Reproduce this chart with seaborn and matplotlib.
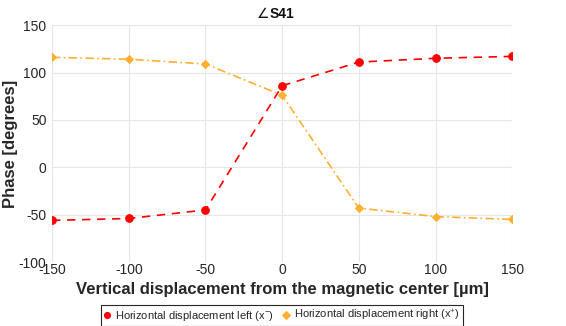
import pandas as pd
import seaborn as sns
import matplotlib.pyplot as plt

displacement = [-150, -100, -50, 0, 50, 100, 150]
phase_left = [-56, -54, -45, 86, 111, 115, 117]
phase_right = [116, 114, 109, 76, -43, -52, -55]
label_left = 'Horizontal displacement left (x$^{-}$)'
label_right = 'Horizontal displacement right (x$^{+}$)'

sns.set_style('whitegrid')
plt.rcParams['font.family'] = ['Liberation Sans', 'DejaVu Sans']
plt.rcParams['mathtext.fontset'] = 'custom'
plt.rcParams['mathtext.rm'] = 'Liberation Sans'
plt.rcParams['axes.unicode_minus'] = False

df = pd.DataFrame({
    'x': displacement * 2,
    'phase': phase_left + phase_right,
    'series': [label_left] * 7 + [label_right] * 7,
})

fig = plt.figure(figsize=(5.66, 3.26), dpi=100)
ax = fig.add_axes([0.092, 0.196, 0.813, 0.727])

colors = {label_left: '#ff0000', label_right: '#ffb030'}
styles = {label_left: (0, (5, 4)), label_right: (0, (5, 2, 1, 2))}
markers = {label_left: 'o', label_right: 'D'}
for name in [label_left, label_right]:
    sub = df[df['series'] == name]
    sns.lineplot(data=sub, x='x', y='phase', ax=ax, color=colors[name],
                 linestyle=styles[name], marker=markers[name],
                 markersize=5.5 if name == label_left else 4.5,
                 markeredgecolor=colors[name], linewidth=1.2, label=name)

ax.set_xlim(-150, 150)
ax.set_ylim(-100, 150)
ax.set_xticks(displacement)
ax.set_yticks([-100, -50, 0, 50, 100, 150])
ax.grid(color='#e6e6e6', linewidth=0.8)
for s in ax.spines.values():
    s.set_visible(False)
ax.tick_params(axis='both', labelsize=10, colors='#262626', length=0)
ax.tick_params(axis='x', pad=1)
ax.tick_params(axis='y', pad=1, length=3, width=0.6, color='#999999')

ax.set_xlabel('Vertical displacement from the magnetic center [µm]',
              fontsize=12, fontweight='bold', color='#262626', labelpad=3)
ax.set_ylabel('Phase [degrees]', fontsize=12, fontweight='bold', color='#262626')
ax.yaxis.set_label_coords(-0.075, 0.5)

# title: angle sign normal, S41 bold
ax.annotate('∠', xy=(0.5, 1.0), xycoords='axes fraction', xytext=(-9, 3),
            textcoords='offset points', ha='right', va='bottom', fontsize=10,
            family=['DejaVu Sans'], color='#111111')
ax.annotate('S41', xy=(0.5, 1.0), xycoords='axes fraction', xytext=(-9, 3),
            textcoords='offset points', ha='left', va='bottom', fontsize=10,
            fontweight='bold', color='#111111')

leg = ax.legend(loc='upper center', bbox_to_anchor=(0.5, -0.158), ncol=2,
                frameon=True, fancybox=False, edgecolor='#262626', fontsize=8,
                handlelength=0.5, handletextpad=0.5, columnspacing=0.8,
                borderpad=0.25, framealpha=1, markerscale=0.8)
leg.get_frame().set_linewidth(0.8)
for line in leg.get_lines():
    line.set_linestyle('none')

fig.savefig('out.png', dpi=100)
